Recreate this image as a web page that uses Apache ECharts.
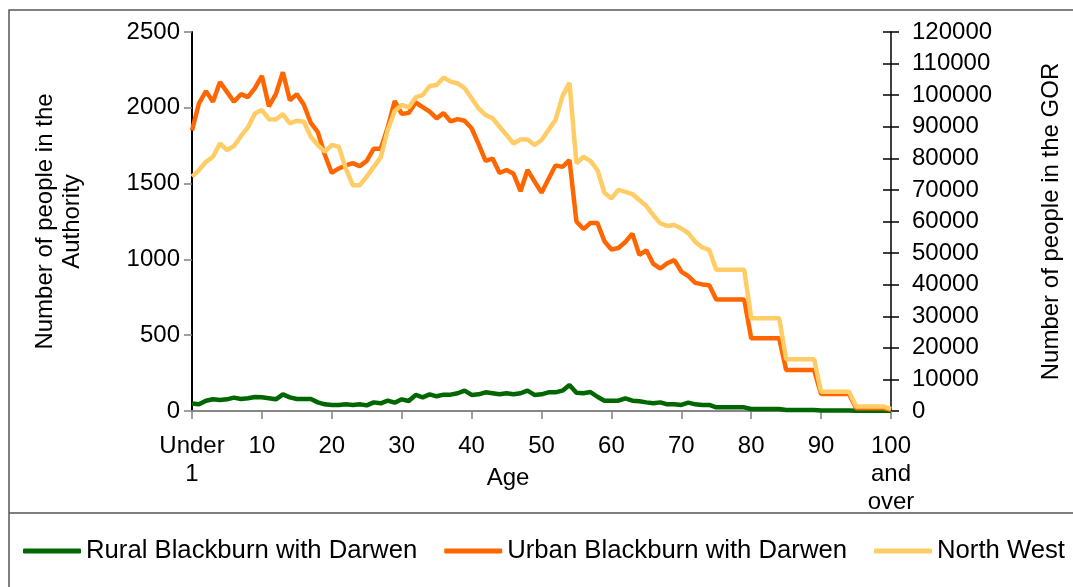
<!DOCTYPE html>
<html>
<head>
<meta charset="utf-8">
<script src="https://cdn.jsdelivr.net/npm/echarts@6/dist/echarts.min.js"></script>
<style>
html,body{margin:0;padding:0;background:#fff;}
#chart{width:1073px;height:587px;}
</style>
</head>
<body>
<div id="chart"></div>
<script>
// Age categories: "Under 1", 1 ... 99, "100 and over"
var ageLabels = ["Under 1"];
for (var a = 1; a <= 99; a++) ageLabels.push(String(a));
ageLabels.push("100 and over");

var seriesNames = ["Rural Blackburn with Darwen", "Urban Blackburn with Darwen", "North West"];

var rural = [50,44,68,77,73,77,88,79,84,92,
             90,84,77,110,90,79,79,79,57,44,
             40,40,44,40,44,37,57,51,68,55,
             77,66,106,90,110,97,108,108,117,134,
             106,110,123,117,110,117,110,117,134,106,
             110,123,123,134,172,120,117,125,94,68,
             68,68,84,68,64,57,51,57,44,44,
             40,55,44,40,40,24,24,24,24,24,
             13,13,13,13,13,7,7,7,7,7,
             4,4,4,4,4,1,1,1,1,1,
             1];

var urban = [1850,2030,2110,2040,2170,2105,2040,2090,2070,2130,
             2210,2010,2090,2235,2050,2090,2020,1900,1840,1690,
             1570,1600,1620,1635,1615,1650,1730,1730,1870,2045,
             1960,1965,2035,2005,1975,1930,1965,1910,1925,1915,
             1865,1760,1650,1665,1570,1590,1565,1450,1590,1515,
             1440,1530,1620,1610,1655,1250,1200,1240,1240,1120,
             1065,1075,1115,1170,1030,1060,970,940,975,995,
             920,890,845,835,830,735,735,735,735,735,
             480,480,480,480,480,270,270,270,270,270,
             112,112,112,112,112,18,18,18,18,18,
             8];

var northWest = [74200,76300,78900,80500,84700,82600,83900,87000,89800,94200,
                 95300,92400,92300,94000,91100,91900,91600,86800,84200,82100,
                 84200,83700,76800,71500,71500,74200,77300,80300,89000,95000,
                 96900,96100,99300,100000,102900,103200,105600,104300,103700,102200,
                 99000,95800,93700,92700,90000,87400,84700,86000,86000,84200,
                 85800,89000,92100,99700,103900,78400,80500,79200,76300,69100,
                 67300,70000,69400,68700,66800,64900,62000,59400,58600,58900,
                 57800,56300,53600,51800,51000,44700,44700,44700,44700,44700,
                 29400,29400,29400,29400,29400,16400,16400,16400,16400,16400,
                 6100,6100,6100,6100,6100,1400,1400,1400,1400,1400,
                 650];

var FONT = "'Liberation Sans', Arial, sans-serif";
var chart = echarts.init(document.getElementById('chart'), null, {renderer: 'canvas'});
function plain(v) { return String(v); }

var option = {
  backgroundColor: '#ffffff',
  animation: false,
  textStyle: {fontFamily: FONT, color: '#000'},
  grid: {left: 192, right: 182, top: 32, bottom: 176, containLabel: false},
  legend: {
    left: 23, top: 538, padding: 0,
    itemWidth: 58, itemHeight: 5, itemGap: 27,
    icon: 'roundRect',
    textStyle: {fontFamily: FONT, fontSize: 25.7, color: '#000'},
    data: seriesNames
  },
  xAxis: [{
    type: 'category',
    data: ageLabels,
    boundaryGap: false,
    name: 'Age',
    nameLocation: 'middle',
    nameGap: 55,
    nameMoveOverlap: false,
    nameTextStyle: {fontFamily: FONT, fontSize: 24, color: '#000', padding: [0, 67, 0, 0]},
    axisLine: {show: true, lineStyle: {color: '#808080', width: 1.5}},
    axisTick: {show: true, interval: 9, length: 8, lineStyle: {color: '#808080', width: 1.5}},
    axisLabel: {
      interval: 9, margin: 21, fontSize: 24, lineHeight: 28, color: '#000', fontFamily: FONT,
      formatter: function (v) { return v.replace(/ /g, '\n'); }
    },
    splitLine: {show: false}
  }, {
    type: 'category',
    data: ageLabels,
    boundaryGap: false,
    position: 'top',
    axisLine: {show: true, lineStyle: {color: '#808080', width: 1.5}},
    axisTick: {show: false},
    axisLabel: {show: false},
    splitLine: {show: false}
  }],
  yAxis: [{
    type: 'value',
    position: 'left',
    min: 0, max: 2500, interval: 500,
    name: 'Number of people in the\nAuthority',
    nameLocation: 'middle',
    nameRotate: 90,
    nameGap: 106,
    nameTextStyle: {fontFamily: FONT, fontSize: 24, lineHeight: 27, color: '#000', align: 'center'},
    axisLine: {show: true, lineStyle: {color: '#000', width: 2}},
    axisTick: {show: true, length: 8, lineStyle: {color: '#808080', width: 1.5}},
    axisLabel: {margin: 12, fontSize: 24, color: '#000', fontFamily: FONT, formatter: plain},
    splitLine: {show: false}
  }, {
    type: 'value',
    position: 'right',
    min: 0, max: 120000, interval: 10000,
    name: 'Number of people in the GOR',
    nameLocation: 'middle',
    nameRotate: 90,
    nameGap: 148,
    nameTextStyle: {fontFamily: FONT, fontSize: 24, color: '#000'},
    axisLine: {show: true, lineStyle: {color: '#000', width: 1.5}},
    axisTick: {show: true, length: 8, lineStyle: {color: '#000', width: 1.5}},
    axisLabel: {margin: 21, fontSize: 24, color: '#000', fontFamily: FONT, formatter: plain},
    splitLine: {show: false}
  }, {
    type: 'value',
    position: 'right',
    min: 0, max: 120000, interval: 10000,
    axisLine: {show: false},
    axisTick: {show: true, inside: true, length: 8, lineStyle: {color: '#000', width: 1.5}},
    axisLabel: {show: false},
    splitLine: {show: false}
  }],
  graphic: [
    {type: 'rect', silent: true, z: -1,
     shape: {x: 9, y: 10, width: 1100, height: 620},
     style: {fill: 'none', stroke: '#555', lineWidth: 1.5}},
    {type: 'line', silent: true,
     shape: {x1: 9, y1: 513, x2: 1073, y2: 513},
     style: {stroke: '#555', lineWidth: 1.5}}
  ],
  series: [{
    name: seriesNames[0], type: 'line', data: rural,
    xAxisIndex: 0, yAxisIndex: 0,
    showSymbol: false, symbol: 'none',
    lineStyle: {color: '#006600', width: 4.5},
    itemStyle: {color: '#006600'}
  }, {
    name: seriesNames[1], type: 'line', data: urban,
    xAxisIndex: 0, yAxisIndex: 0,
    showSymbol: false, symbol: 'none',
    lineStyle: {color: '#FF6600', width: 4.5},
    itemStyle: {color: '#FF6600'}
  }, {
    name: seriesNames[2], type: 'line', data: northWest,
    xAxisIndex: 0, yAxisIndex: 1,
    showSymbol: false, symbol: 'none',
    lineStyle: {color: '#FFCC66', width: 4.5},
    itemStyle: {color: '#FFCC66'}
  }]
};
chart.setOption(option);
</script>
</body>
</html>
